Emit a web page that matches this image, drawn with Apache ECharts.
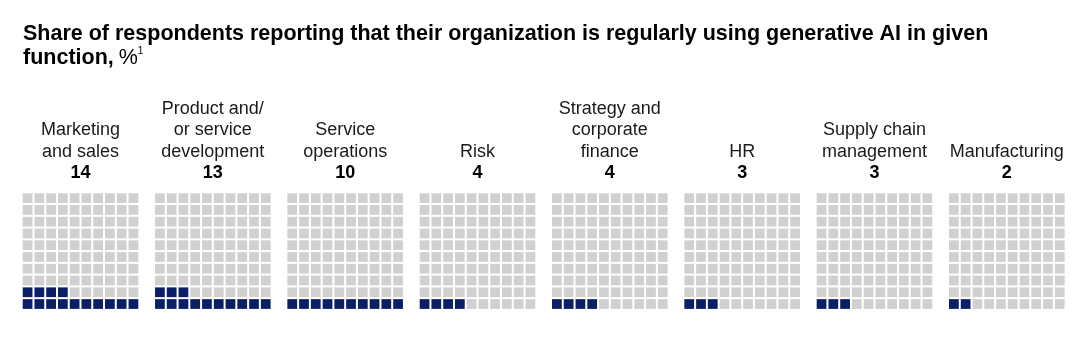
<!DOCTYPE html>
<html>
<head>
<meta charset="utf-8">
<script src="https://cdn.jsdelivr.net/npm/echarts@6/dist/echarts.min.js"></script>
<style>
html,body{margin:0;padding:0;background:#fff;}
#chart{width:1080px;height:345px;}
</style>
</head>
<body>
<div id="chart"></div>
<script>
// ---- data ----
const categories = [
  'Marketing\nand sales',
  'Product and/\nor service\ndevelopment',
  'Service\noperations',
  'Risk',
  'Strategy and\ncorporate\nfinance',
  'HR',
  'Supply chain\nmanagement',
  'Manufacturing'
];
const values = [14, 13, 10, 4, 4, 3, 3, 2];
const gridSize = 10; // 10 x 10 waffle = 100%

// ---- layout / style ----
const FONT = '"Liberation Sans", Arial, sans-serif';
const NAVY = '#0b1f66';
const GRAY = '#d0d0d0';
const GAP = 2;
const firstLeft = 22.7;
const step = 132.33;
const gridTop = 191.3;
const gridExtent = 117.6;
const cellsWidth = gridExtent - GAP;

const chart = echarts.init(document.getElementById('chart'), null, {renderer: 'canvas'});

const grids = [], xAxes = [], yAxes = [], series = [], graphics = [];

categories.forEach((cat, i) => {
  const left = firstLeft + step * i;
  grids.push({left: left, top: gridTop, width: gridExtent, height: gridExtent});
  xAxes.push({type: 'value', gridIndex: i, min: 0, max: gridSize, show: false});
  yAxes.push({type: 'value', gridIndex: i, min: 0, max: gridSize, show: false});
  const data = [];
  for (let k = 0; k < gridSize * gridSize; k++) {
    const col = k % gridSize, row = Math.floor(k / gridSize);
    data.push([col, row, k < values[i] ? 1 : 0]);
  }
  series.push({
    type: 'custom',
    xAxisIndex: i,
    yAxisIndex: i,
    data: data,
    silent: true,
    renderItem: function (params, api) {
      const col = api.value(0), row = api.value(1), filled = api.value(2);
      const tl = api.coord([col, row + 1]);
      const sz = api.size([1, 1]);
      return {
        type: 'rect',
        shape: {x: tl[0], y: tl[1] + GAP, width: sz[0] - GAP, height: sz[1] - GAP},
        style: {fill: filled ? NAVY : GRAY}
      };
    }
  });
  graphics.push({
    type: 'text',
    x: left + cellsWidth / 2,
    y: 184,
    style: {
      text: '{n|' + cat.split('\n').join('}\n{n|') + '}\n{v|' + values[i] + '}',
      align: 'center',
      verticalAlign: 'bottom',
      rich: {
        n: {fontFamily: FONT, fontSize: 18, lineHeight: 21.5, fill: '#1a1a1a', align: 'center'},
        v: {fontFamily: FONT, fontSize: 18, fontWeight: 'bold', lineHeight: 21.5, fill: '#000', align: 'center'}
      }
    }
  });
});

chart.setOption({
  animation: false,
  title: {
    left: 18,
    top: 16.5,
    text: '{t|Share of respondents reporting that their organization is regularly using generative AI in given}\n{t|function,} {p|%}{s|1}',
    textStyle: {
      rich: {
        t: {fontFamily: FONT, fontSize: 21.5, fontWeight: 'bold', color: '#000', lineHeight: 24.5},
        p: {fontFamily: FONT, fontSize: 21.5, fontWeight: 'normal', color: '#000', lineHeight: 24.5},
        s: {fontFamily: FONT, fontSize: 10, fontWeight: 'normal', color: '#000', lineHeight: 24.5, verticalAlign: 'top', padding: [0, 0, 10, 0]}
      }
    }
  },
  grid: grids,
  xAxis: xAxes,
  yAxis: yAxes,
  series: series,
  graphic: graphics
});
</script>
</body>
</html>
